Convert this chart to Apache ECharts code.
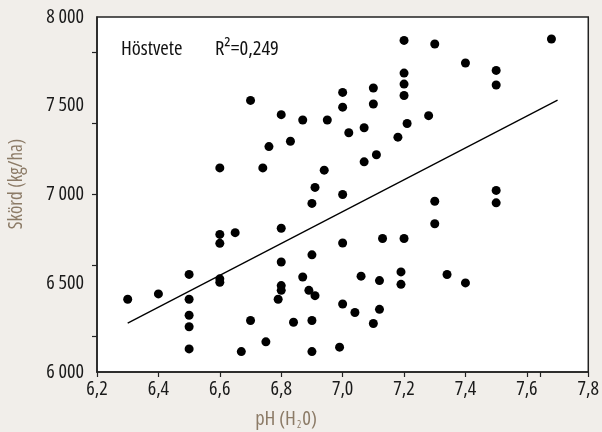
<!DOCTYPE html>
<html>
<head>
<meta charset="utf-8">
<script src="https://cdn.jsdelivr.net/npm/echarts@6/dist/echarts.min.js"></script>
<style>
html,body{margin:0;padding:0;background:#f1eeea;}
#chart{width:602px;height:432px;}
</style>
</head>
<body>
<div id="chart"></div>
<script>
// pH (H2O) values and yields (kg/ha)
const phValues = [
  6.30, 6.40, 6.50, 6.50, 6.50, 6.50, 6.50, 6.60, 6.60, 6.60,
  6.60, 6.60, 6.65, 6.67, 6.70, 6.70, 6.74, 6.75, 6.76, 6.80,
  6.80, 6.80, 6.80, 6.80, 6.79, 6.83, 6.84, 6.87, 6.87, 6.90,
  6.90, 6.91, 6.89, 6.91, 6.90, 6.90, 6.95, 6.94, 6.99, 7.00,
  7.00, 7.00, 7.00, 7.00, 7.02, 7.04, 7.07, 7.07, 7.06, 7.10,
  7.10, 7.11, 7.13, 7.12, 7.12, 7.10, 7.20, 7.20, 7.20, 7.20,
  7.21, 7.18, 7.20, 7.19, 7.19, 7.28, 7.30, 7.30, 7.30, 7.34,
  7.40, 7.40, 7.50, 7.50, 7.50, 7.50, 7.68
];
const yieldValues = [
  6410, 6440, 6550, 6410, 6320, 6255, 6130, 7150, 6775, 6725,
  6525, 6505, 6785, 6115, 7530, 6290, 7150, 6170, 7270, 7450,
  6810, 6620, 6487, 6460, 6410, 7300, 6280, 7420, 6535, 6660,
  6950, 7040, 6460, 6430, 6290, 6115, 7420, 7137, 6140, 7575,
  7492, 7000, 6727, 6383, 7348, 6335, 7376, 7184, 6540, 7600,
  7510, 7224, 6752, 6515, 6353, 6273, 7868, 7684, 7622, 7558,
  7400, 7323, 6752, 6564, 6494, 7444, 7848, 6962, 6835, 6549,
  7741, 6502, 7699, 7617, 7023, 6953, 7876
];
// regression line end points
const trendX = [6.30, 7.70];
const trendY = [6275, 7532];

// axis tick values / labels
const xTickValues = [6.2, 6.4, 6.6, 6.8, 7.0, 7.2, 7.4, 7.6, 7.645, 7.8];
const xLabelValues = [6.2, 6.4, 6.6, 6.8, 7.0, 7.2, 7.4, 7.6, 7.8];
const yTickValues = [6200, 6600, 7000, 7400, 7800];
const yLabelValues = [6000, 6500, 7000, 7500, 8000];

const FSTYLE = 'condensed';
const FONT = '"Open Sans", sans-serif';
const fontStr = size => FSTYLE + ' normal ' + size + 'px ' + FONT;
const NAME_COLOR = '#8c7b67';

const points = phValues.map((x, i) => [x, yieldValues[i]]);
const trend = trendX.map((x, i) => [x, trendY[i]]);

const chart = echarts.init(document.getElementById('chart'), null, {renderer: 'canvas'});
chart.setOption({
  backgroundColor: '#f1eeea',
  animation: false,
  grid: {
    left: 97, right: 13, top: 17, bottom: 60,
    show: true, backgroundColor: '#ffffff',
    borderColor: '#222222', borderWidth: 1.5
  },
  xAxis: {
    type: 'value', min: 6.2, max: 7.8,
    axisLine: {show: true, onZero: false, lineStyle: {color: '#222', width: 1.5}},
    axisTick: {show: true, length: 5, customValues: xTickValues, lineStyle: {color: '#222', width: 1.2}},
    axisLabel: {
      customValues: xLabelValues, margin: 7,
      fontStyle: FSTYLE, fontFamily: FONT, fontSize: 20, color: '#1a1a1a',
      formatter: v => v.toFixed(1).replace('.', ',')
    },
    splitLine: {show: false}
  },
  yAxis: {
    type: 'value', min: 6000, max: 8000,
    axisLine: {show: true, onZero: false, lineStyle: {color: '#222', width: 1.5}},
    axisTick: {show: true, length: 5, customValues: yTickValues, lineStyle: {color: '#222', width: 1.2}},
    axisLabel: {
      customValues: yLabelValues, margin: 13,
      fontStyle: FSTYLE, fontFamily: FONT, fontSize: 20, color: '#1a1a1a',
      formatter: v => {
        const s = String(v);
        return s.slice(0, s.length - 3) + ' ' + s.slice(-3);
      }
    },
    splitLine: {show: false}
  },
  series: [
    {
      type: 'scatter', data: points, symbol: 'circle', symbolSize: 9,
      itemStyle: {color: '#000000', opacity: 1}, z: 3
    },
    {
      type: 'line', data: trend, showSymbol: false, symbol: 'none',
      lineStyle: {color: '#000000', width: 1.3}, z: 2
    }
  ],
  graphic: [
    {
      type: 'text', x: 121, y: 49,
      style: {text: 'Höstvete', font: fontStr(20.5), fill: '#111', verticalAlign: 'middle'}
    },
    {
      type: 'text', x: 215, y: 49,
      style: {text: 'R²=0,249', font: fontStr(20.5), fill: '#111', verticalAlign: 'middle'}
    },
    {
      type: 'text', x: 286, y: 419,
      style: {
        text: '{a|pH (H}{s|2}{a|0)}',
        align: 'center', verticalAlign: 'middle',
        rich: {
          a: {fontStyle: FSTYLE, fontFamily: FONT, fontSize: 20.5, fill: NAME_COLOR, color: NAME_COLOR},
          s: {fontStyle: FSTYLE, fontFamily: FONT, fontSize: 10, fill: NAME_COLOR, color: NAME_COLOR, padding: [12, 1, 0, 1]}
        }
      }
    },
    {
      type: 'text', x: 17, y: 184, rotation: Math.PI / 2,
      style: {
        text: 'Skörd (kg/ha)', align: 'center', verticalAlign: 'middle',
        font: fontStr(19), fill: NAME_COLOR
      }
    }
  ]
});
</script>
</body>
</html>
